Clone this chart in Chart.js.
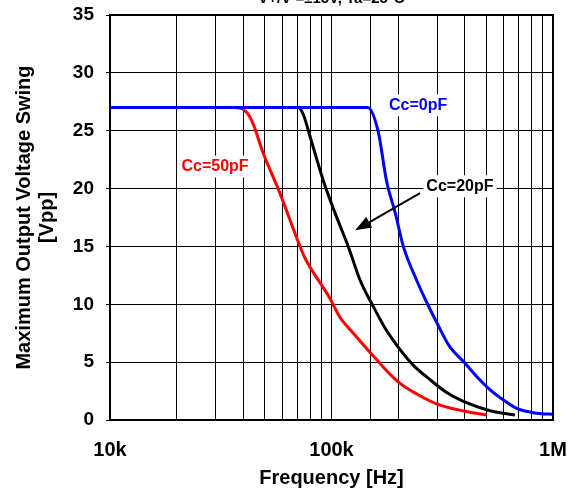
<!DOCTYPE html>
<html>
<head>
<meta charset="utf-8">
<script src="https://cdn.jsdelivr.net/npm/chart.js@4"></script>
<style>
  body { margin: 0; background: #fff; }
  #wrap { width: 576px; height: 493px; position: relative; }
</style>
</head>
<body>
<div id="wrap"><canvas id="myChart"></canvas></div>
<script>
// frequency [Hz] / swing [Vpp]
const freqCc0 = [10000, 146000, 163000, 177000, 194000, 211000, 242000, 264000, 299000, 340000, 401000, 460000, 520000, 600000, 686000, 844000, 1000000];
const vppCc0  = [27, 27, 24.8, 20.7, 17.9, 15.0, 12.1, 10.5, 8.4, 6.4, 4.9, 3.6, 2.6, 1.7, 1.0, 0.58, 0.49];

const freqCc20 = [10000, 70800, 74600, 80000, 91800, 103700, 119000, 134500, 154500, 175000, 200000, 235000, 278000, 330000, 394000, 520000, 673000];
const vppCc20  = [27, 27, 26.4, 24.5, 20.7, 17.9, 15.0, 12.1, 9.8, 7.9, 6.3, 4.7, 3.5, 2.4, 1.6, 0.8, 0.43];

const freqCc50 = [10000, 36000, 39300, 43600, 49200, 58500, 72100, 75900, 98500, 109000, 125500, 160000, 200000, 245000, 298000, 394000, 502000];
const vppCc50  = [27, 27, 26.9, 25.9, 23.05, 19.6, 15.0, 14.0, 10.5, 8.9, 7.5, 5.2, 3.3, 2.2, 1.4, 0.78, 0.43];

const seriesNames = ['Cc=0pF', 'Cc=20pF', 'Cc=50pF'];
const seriesColors = ['#0000ff', '#000000', '#ff0000'];

const xTickValues = [10000, 100000, 1000000];
const xTickLabels = ['10k', '100k', '1M'];

const chartTitle = 'V+/V-=±15V, Ta=25°C';

function pts(xs, ys) {
  return xs.map((x, i) => ({ x: x, y: ys[i] }));
}

// label positions in data units (freq, Vpp)
const labelSpots = [
  { text: 'Cc=0pF', color: '#0000ff', f: 246000, v: 27.2 },
  { text: 'Cc=50pF', color: '#ff0000', f: 29800, v: 21.9 },
  { text: 'Cc=20pF', color: '#000000', f: 380000, v: 20.2 }
];
const arrowFrom = { f: 251000, v: 19.6 };
const arrowTo = { f: 128000, v: 16.4 };

const extras = {
  id: 'extras',
  beforeDatasetsDraw(chart) {
    const { ctx, chartArea: a } = chart;
    ctx.save();
    ctx.strokeStyle = '#000';
    ctx.lineWidth = 2;
    ctx.strokeRect(a.left, a.top, a.right - a.left, a.bottom - a.top);
    ctx.restore();
  },
  afterDatasetsDraw(chart) {
    const { ctx } = chart;
    const xs = chart.scales.x, ys = chart.scales.y;
    ctx.save();
    ctx.font = 'bold 16px "Liberation Sans", Arial, sans-serif';
    ctx.textAlign = 'center';
    ctx.textBaseline = 'middle';
    labelSpots.forEach(l => {
      const px = xs.getPixelForValue(l.f), py = ys.getPixelForValue(l.v);
      const w = ctx.measureText(l.text).width;
      ctx.fillStyle = '#fff';
      ctx.fillRect(px - w / 2 - 3, py - 11, w + 6, 22);
      ctx.fillStyle = l.color;
      ctx.fillText(l.text, px, py);
    });
    // arrow
    const x1 = xs.getPixelForValue(arrowFrom.f), y1 = ys.getPixelForValue(arrowFrom.v);
    const x2 = xs.getPixelForValue(arrowTo.f), y2 = ys.getPixelForValue(arrowTo.v);
    const ang = Math.atan2(y2 - y1, x2 - x1);
    ctx.strokeStyle = '#000';
    ctx.fillStyle = '#000';
    ctx.lineWidth = 2;
    ctx.beginPath();
    ctx.moveTo(x1, y1);
    ctx.lineTo(x2 - 12 * Math.cos(ang), y2 - 12 * Math.sin(ang));
    ctx.stroke();
    ctx.beginPath();
    ctx.moveTo(x2, y2);
    ctx.lineTo(x2 - 16 * Math.cos(ang) + 6 * Math.sin(ang), y2 - 16 * Math.sin(ang) - 6 * Math.cos(ang));
    ctx.lineTo(x2 - 16 * Math.cos(ang) - 6 * Math.sin(ang), y2 - 16 * Math.sin(ang) + 6 * Math.cos(ang));
    ctx.closePath();
    ctx.fill();
    ctx.restore();
  },
  afterDraw(chart) {
    const { ctx, chartArea: a } = chart;
    ctx.save();
    ctx.font = 'bold 15px "Liberation Sans", Arial, sans-serif';
    ctx.fillStyle = '#000';
    ctx.textAlign = 'center';
    ctx.textBaseline = 'alphabetic';
    ctx.fillText(chartTitle, (a.left + a.right) / 2, 3);
    ctx.restore();
  }
};

new Chart('myChart', {
  type: 'line',
  data: {
    datasets: [
      { label: seriesNames[0], data: pts(freqCc0, vppCc0), borderColor: seriesColors[0], order: 1 },
      { label: seriesNames[1], data: pts(freqCc20, vppCc20), borderColor: seriesColors[1], order: 2 },
      { label: seriesNames[2], data: pts(freqCc50, vppCc50), borderColor: seriesColors[2], order: 3 }
    ]
  },
  options: {
    responsive: true,
    maintainAspectRatio: false,
    animation: false,
    layout: { padding: { top: 0, right: 0, bottom: 0, left: 13 } },
    elements: {
      point: { radius: 0 },
      line: { borderWidth: 3, cubicInterpolationMode: 'monotone', fill: false, borderJoinStyle: 'round', borderCapStyle: 'butt' }
    },
    plugins: { legend: { display: false }, tooltip: { enabled: false } },
    scales: {
      x: {
        type: 'logarithmic',
        min: 10000,
        max: 1000000,
        afterFit: function (scale) {
          scale.height = 73;
          scale.paddingLeft = 0;
          scale.paddingRight = 23;
        },
        grid: { color: '#000', lineWidth: 1, drawTicks: false },
        border: { display: false },
        ticks: {
          autoSkip: false,
          maxRotation: 0,
          padding: 18,
          color: '#000',
          font: { family: '"Liberation Sans", Arial, sans-serif', size: 20, weight: 'bold' },
          callback: function (value) {
            const i = xTickValues.indexOf(value);
            return i >= 0 ? xTickLabels[i] : '';
          }
        },
        title: {
          display: true,
          text: 'Frequency [Hz]',
          color: '#000',
          padding: { top: 4, bottom: 3 },
          font: { family: '"Liberation Sans", Arial, sans-serif', size: 20, weight: 'bold' }
        }
      },
      y: {
        min: 0,
        max: 35,
        afterFit: function (scale) {
          scale.width = 97;
          scale.paddingTop = 15;
          scale.paddingBottom = 0;
        },
        ticks: {
          stepSize: 5,
          padding: 12,
          color: '#000',
          font: { family: '"Liberation Sans", Arial, sans-serif', size: 19, weight: 'bold' }
        },
        grid: { color: '#000', lineWidth: 1, tickLength: 4 },
        border: { display: false },
        title: {
          display: true,
          text: ['Maximum Output Voltage Swing', '[Vpp]'],
          color: '#000',
          padding: { top: 0, bottom: 4 },
          font: { family: '"Liberation Sans", Arial, sans-serif', size: 20, weight: 'bold', lineHeight: 1.15 }
        }
      }
    }
  },
  plugins: [extras]
});
</script>
</body>
</html>
